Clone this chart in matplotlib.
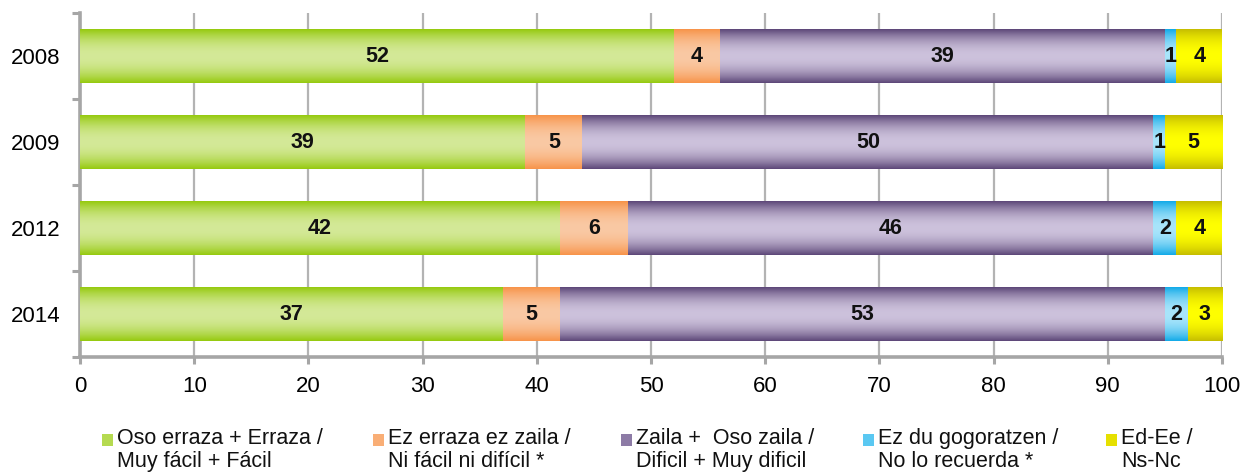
import numpy as np
import matplotlib
matplotlib.use("Agg")
import matplotlib.pyplot as plt
from matplotlib.colors import to_rgb
from matplotlib.patches import Rectangle

plt.rcParams['font.family'] = ['Liberation Sans', 'DejaVu Sans']

years = ["2008", "2009", "2012", "2014"]
muy_facil = [52, 39, 42, 37]
ni_facil = [4, 5, 6, 5]
dificil = [39, 50, 46, 53]
no_recuerda = [1, 1, 2, 2]
ns_nc = [4, 5, 4, 3]

series = [muy_facil, ni_facil, dificil, no_recuerda, ns_nc]
labels = ["Oso erraza + Erraza /\nMuy fácil + Fácil",
          "Ez erraza ez zaila /\nNi fácil ni difícil *",
          "Zaila +  Oso zaila /\nDificil + Muy dificil",
          "Ez du gogoratzen /\nNo lo recuerda *",
          "Ed-Ee /\nNs-Nc"]
# (edge colour, centre colour) of the vertical gradient on each bar
shades = [("#96CA10", "#D4E998"),
          ("#F7944A", "#FAC9A4"),
          ("#5E4879", "#CDC2DC"),
          ("#14ABE8", "#A9E5FB"),
          ("#C6BE00", "#FFFF00")]
legend_colors = ["#B5DA50", "#F9AE76", "#8D7BA6", "#5AC8F2", "#E6E000"]

grey = "#A6A6A6"


def gradient(edge, centre, n=64):
    t = np.abs(np.linspace(-1, 1, n))
    w = np.clip(t, 0, 1) ** 2.0
    e = np.array(to_rgb(edge))
    c = np.array(to_rgb(centre))
    col = c[None, :] * (1 - w[:, None]) + e[None, :] * w[:, None]
    return col[:, None, :]


fig = plt.figure(figsize=(12.5, 4.75), dpi=100)
ax = fig.add_axes([0.064, 0.2484, 0.9136, 0.7242])

y = np.arange(len(years))
left = np.zeros(len(years))
for vals, (edge, centre) in zip(series, shades):
    bars = ax.barh(y, vals, left=left, height=0.62, color=edge, linewidth=0, zorder=2)
    img = gradient(edge, centre)
    for bar, v in zip(bars, vals):
        x0, y0 = bar.get_x(), bar.get_y()
        w, h = bar.get_width(), bar.get_height()
        ax.imshow(img, extent=(x0, x0 + w, y0 + h, y0), aspect='auto',
                  interpolation='bilinear', zorder=3)
        ax.text(x0 + w / 2, y0 + h / 2, str(v), ha='center', va='center',
                fontsize=15.5, fontweight='bold', color='#111111', zorder=4)
    left = left + np.array(vals)

ax.set_xlim(0, 100)
ax.set_ylim(len(years) - 0.5, -0.5)

ax.set_xticks(np.arange(0, 101, 10))
ax.tick_params(axis='x', direction='out', length=5, width=2.2, color=grey,
               labelsize=16, pad=9)
ax.set_yticks(np.arange(-0.5, len(years), 1.0))
ax.set_yticklabels([])
ax.set_yticks(y, minor=True)
ax.set_yticklabels(years, minor=True)
ax.tick_params(axis='y', which='major', direction='out', length=6, width=2.2, color=grey)
ax.tick_params(axis='y', which='minor', length=0, labelsize=16, pad=14)

ax.grid(axis='x', color='#B3B3B3', linewidth=1.6, zorder=0)
ax.set_axisbelow(True)
for s in ['top', 'right']:
    ax.spines[s].set_visible(False)
for s in ['left', 'bottom']:
    ax.spines[s].set_color(grey)
    ax.spines[s].set_linewidth(2.6)

# legend row under the axis
W, H = 1250, 475
leg_x = [102, 373, 621, 863, 1106]
for lx, lab, col in zip(leg_x, labels, legend_colors):
    fig.patches.append(Rectangle((lx / W, 1 - 446 / H), 11 / W, 12 / H,
                                 transform=fig.transFigure, facecolor=col,
                                 edgecolor='none'))
    fig.text((lx + 15) / W, 1 - 428 / H, lab, ha='left', va='top',
             fontsize=15.5, linespacing=1.1, color='#111111')

fig.savefig("out.png", dpi=100)
